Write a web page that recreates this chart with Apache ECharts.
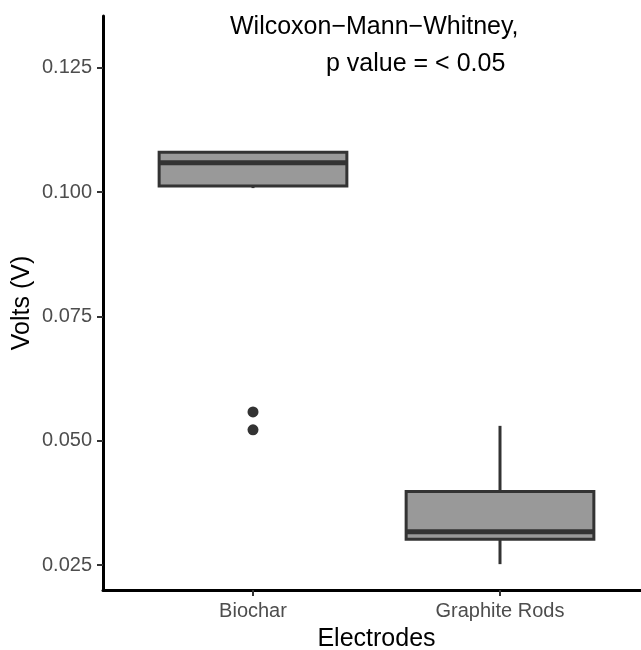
<!DOCTYPE html>
<html><head><meta charset="utf-8">
<script src="https://cdn.jsdelivr.net/npm/echarts@6/dist/echarts.min.js"></script>
<style>html,body{margin:0;padding:0;background:#fff}#c{width:641px;height:650px}</style>
</head><body><div id="c"></div>
<script>
// ---- data ----
const categories = ['Biochar', 'Graphite Rods'];
// [min whisker, Q1, median, Q3, max whisker]
const boxStats = [
  [0.1008, 0.1012, 0.1059, 0.1080, 0.1080],
  [0.0252, 0.0302, 0.0317, 0.0398, 0.0530]
];
const outlierCategory = ['Biochar', 'Biochar'];
const outlierValues = [0.0558, 0.0522];
const yTicks = [0.025, 0.05, 0.075, 0.1, 0.125];
const annotationLines = ['Wilcoxon\u2212Mann\u2212Whitney,', 'p value = < 0.05'];

const FONT = '"Liberation Sans", Arial, sans-serif';
const yMin = 0.0200, yMax = 0.1354;

const boxData = boxStats.map((s, i) => [i].concat(s));
const outData = outlierValues.map((v, i) => [outlierCategory[i], v]);

const chart = echarts.init(document.getElementById('c'), null, {renderer: 'canvas'});
chart.setOption({
  animation: false,
  backgroundColor: '#ffffff',
  textStyle: {fontFamily: FONT},
  grid: [
    {left: 103, right: 0, top: 16, bottom: 60, containLabel: false, outerBoundsMode: 'none'},
    {left: 129.5, right: 17.5, top: 16, bottom: 60, containLabel: false, outerBoundsMode: 'none'}
  ],
  xAxis: [
    {type: 'value', gridIndex: 0, min: 0, max: 1,
     axisLine: {show: true, lineStyle: {color: '#000', width: 3}},
     axisTick: {show: false}, axisLabel: {show: false}, splitLine: {show: false}},
    {type: 'category', gridIndex: 1, data: categories, boundaryGap: true,
     axisLine: {show: false},
     axisTick: {show: true, alignWithLabel: true, length: 6, lineStyle: {color: '#333', width: 2}},
     axisLabel: {color: '#4d4d4d', fontSize: 20, fontFamily: FONT, margin: 11},
     name: 'Electrodes', nameLocation: 'middle', nameGap: 37, nameMoveOverlap: false,
     nameTextStyle: {color: '#000', fontSize: 25, fontFamily: FONT},
     splitLine: {show: false}}
  ],
  yAxis: [
    {type: 'value', gridIndex: 0, min: yMin, max: yMax,
     axisLine: {show: true, lineStyle: {color: '#000', width: 3}},
     axisTick: {show: true, length: 6, customValues: yTicks, lineStyle: {color: '#333', width: 2}},
     axisLabel: {show: true, customValues: yTicks, color: '#4d4d4d', fontSize: 20, fontFamily: FONT, margin: 11,
                 formatter: v => v.toFixed(3)},
     name: 'Volts (V)', nameLocation: 'middle', nameGap: 68, nameRotate: 90, nameMoveOverlap: false,
     nameTextStyle: {color: '#000', fontSize: 25, fontFamily: FONT},
     splitLine: {show: false}},
    {type: 'value', gridIndex: 1, min: yMin, max: yMax, show: false, splitLine: {show: false}}
  ],
  series: [
    {
      type: 'custom', xAxisIndex: 1, yAxisIndex: 1,
      data: boxData,
      renderItem: function (params, api) {
        const x = api.value(0);
        const pMin = api.coord([x, api.value(1)]);
        const pQ1 = api.coord([x, api.value(2)]);
        const pMed = api.coord([x, api.value(3)]);
        const pQ3 = api.coord([x, api.value(4)]);
        const pMax = api.coord([x, api.value(5)]);
        const bw = api.size([1, 0])[0] * 0.76;
        const cx = pMed[0];
        const dark = '#333333';
        return {
          type: 'group',
          children: [
            {type: 'line', shape: {x1: cx, y1: pMax[1], x2: cx, y2: pQ3[1]}, style: {stroke: dark, lineWidth: 3}},
            {type: 'line', shape: {x1: cx, y1: pQ1[1], x2: cx, y2: pMin[1]}, style: {stroke: dark, lineWidth: 3}},
            {type: 'rect', shape: {x: cx - bw / 2, y: pQ3[1], width: bw, height: pQ1[1] - pQ3[1]},
             style: {fill: '#999999', stroke: dark, lineWidth: 3}},
            {type: 'line', shape: {x1: cx - bw / 2, y1: pMed[1], x2: cx + bw / 2, y2: pMed[1]},
             style: {stroke: dark, lineWidth: 5}}
          ]
        };
      }
    },
    {
      type: 'scatter', xAxisIndex: 1, yAxisIndex: 1,
      data: outData, symbol: 'circle', symbolSize: 11,
      itemStyle: {color: '#333333', opacity: 1}
    }
  ],
  graphic: [
    {type: 'text', left: 230, top: 15, style: {text: annotationLines[0], fill: '#000', font: '25px ' + FONT}},
    {type: 'text', left: 326, top: 52, style: {text: annotationLines[1], fill: '#000', font: '25px ' + FONT}}
  ]
});
</script></body></html>
